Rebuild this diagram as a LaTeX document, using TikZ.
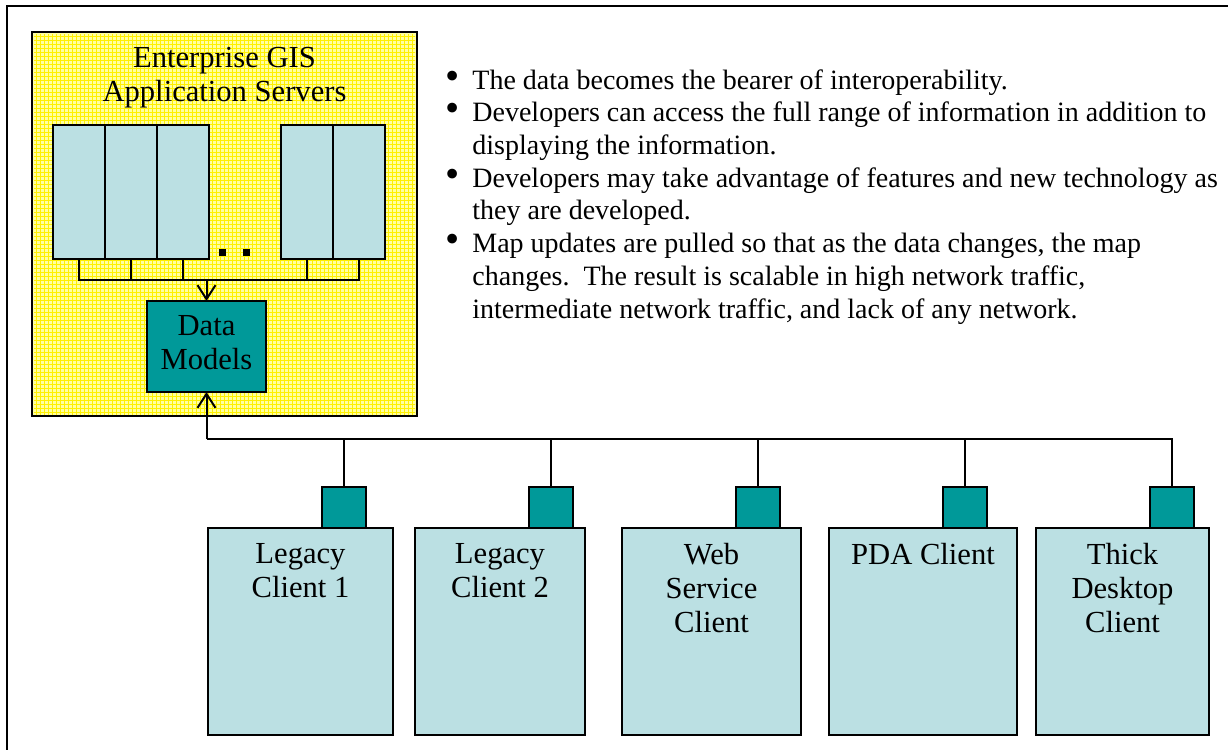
\documentclass[tikz,border=0pt]{standalone}
\usepackage{graphicx}
\usepackage{fontspec}
\setmainfont{Liberation Serif}
\usetikzlibrary{arrows.meta, positioning}

\definecolor{clientblue}{RGB}{187,224,227}
\definecolor{modelteal}{RGB}{0,153,153}
\definecolor{padyellow}{RGB}{255,255,160}
\definecolor{gridyellow}{RGB}{255,240,0}

\newcommand{\notebullet}{\makebox[13pt][l]{\hspace{-0.6pt}\scalebox{1.45}{\textbullet}}}
\newcommand{\noteindent}{\hspace*{13pt}}

\begin{document}
\begin{tikzpicture}[x=0.5pt, y=-0.5pt,
    client/.style={rectangle, draw, fill=clientblue, line width=0.9pt, minimum height=103.5pt, inner sep=0pt, outer sep=0pt},
    port/.style={rectangle, draw, fill=modelteal, line width=0.9pt, minimum width=22pt, minimum height=20.5pt, inner sep=0pt, outer sep=0pt},
    server/.style={rectangle, draw, fill=clientblue, line width=1pt, minimum width=26pt, minimum height=67pt, inner sep=0pt, outer sep=0pt},
    bigtext/.style={font=\fontsize{15.3pt}{17pt}\selectfont, align=center},
    caption/.style={bigtext, inner sep=0pt},
    wire/.style={line width=0.9pt},
    drop/.style={line width=0.6pt},
    flow/.style={line width=1pt, -{Straight Barb[length=7pt, width=9pt, line width=1pt]}}]
  \useasboundingbox (0,0) rectangle (1228,750);

  % Outer frame
  \draw[line width=1pt] (7,6) rectangle (1260,780);

  % Application server panel
  \node[rectangle, draw, fill=padyellow, line width=1pt, minimum width=192.5pt, minimum height=192pt, inner sep=0pt, outer sep=0pt] (appsrv) at (224.5,224) {};
  \begin{scope}
    \clip (34,34) rectangle (415,414);
    \draw[gridyellow, line width=0.3pt, step=2pt] (30,30) grid (420,420);
  \end{scope}
  \node[caption, below=7.5pt of appsrv.north] (apptitle) {Enterprise GIS\\Application Servers};

  % Servers
  \node[server] (srv1) at (79,192) {};
  \node[server, right=0pt of srv1] (srv2) {};
  \node[server, right=0pt of srv2] (srv3) {};
  \node[server] (srv4) at (307,192) {};
  \node[server, right=0pt of srv4] (srv5) {};
  \node[rectangle, fill, minimum size=3.5pt, inner sep=0pt] (dot1) at (222,252) {};
  \node[rectangle, fill, minimum size=3.5pt, inner sep=0pt] (dot2) at (246,252) {};

  % Data models
  \node[rectangle, draw, fill=modelteal, line width=1pt, minimum width=59.5pt, minimum height=45.5pt, inner sep=0pt, outer sep=0pt] (models) at (206.5,346.5) {};
  \node[caption, below=7pt of models.north] (modelstext) {Data\\Models};

  % Server bus
  \coordinate (srvbus) at (206.5,280);
  \draw[wire] (srv1.south) -- (srv1.south |- srvbus) -| (srv5.south);
  \draw[wire] (srv2.south) -- (srv2.south |- srvbus);
  \draw[wire] (srv3.south) -- (srv3.south |- srvbus);
  \draw[wire] (srv4.south) -- (srv4.south |- srvbus);
  \draw[flow] (srvbus) -- (models.north);

  % Clients
  \node[client, minimum width=92.5pt] (legacy1) at (300.5,631.5) {};
  \node[client, minimum width=85pt] (legacy2) at (500,631.5) {};
  \node[client, minimum width=89.5pt] (websvc) at (711.5,631.5) {};
  \node[client, minimum width=94pt] (pda) at (923,631.5) {};
  \node[client, minimum width=86.5pt] (thick) at (1122.5,631.5) {};
  \node[caption, below=7.5pt of legacy1.north] (legacy1text) {Legacy\\Client 1};
  \node[caption, below=7.5pt of legacy2.north] (legacy2text) {Legacy\\Client 2};
  \node[caption, below=7.5pt of websvc.north] (websvctext) {Web\\Service\\Client};
  \node[caption, below=7.5pt of pda.north] (pdatext) {PDA Client};
  \node[caption, below=7.5pt of thick.north] (thicktext) {Thick\\Desktop\\Client};

  % Ports
  \node[port] (port1) at (344,507.5) {};
  \node[port] (port2) at (551,507.5) {};
  \node[port] (port3) at (758,507.5) {};
  \node[port] (port4) at (965,507.5) {};
  \node[port] (port5) at (1172,507.5) {};

  % Client bus
  \coordinate (netbus) at (206.5,439);
  \draw[flow] (netbus) -- (models.south);
  \draw[wire] (netbus) -| (port5.north);
  \draw[drop] (port1.north) -- (port1.north |- netbus);
  \draw[drop] (port2.north) -- (port2.north |- netbus);
  \draw[drop] (port3.north) -- (port3.north |- netbus);
  \draw[drop] (port4.north) -- (port4.north |- netbus);

  % Notes
  \node[anchor=north west, inner sep=0pt, align=left, font=\fontsize{14pt}{16.35pt}\selectfont] (notes) at (446,69) {%
    \notebullet The data becomes the bearer of interoperability.\\
    \notebullet Developers can access the full range of information in addition to\\
    \noteindent displaying the information.\\
    \notebullet Developers may take advantage of features and new technology as\\
    \noteindent they are developed.\\
    \notebullet Map updates are pulled so that as the data changes, the map\\
    \noteindent changes.\ \ The result is scalable in high network traffic,\\
    \noteindent intermediate network traffic, and lack of any network.};
\end{tikzpicture}
\end{document}
